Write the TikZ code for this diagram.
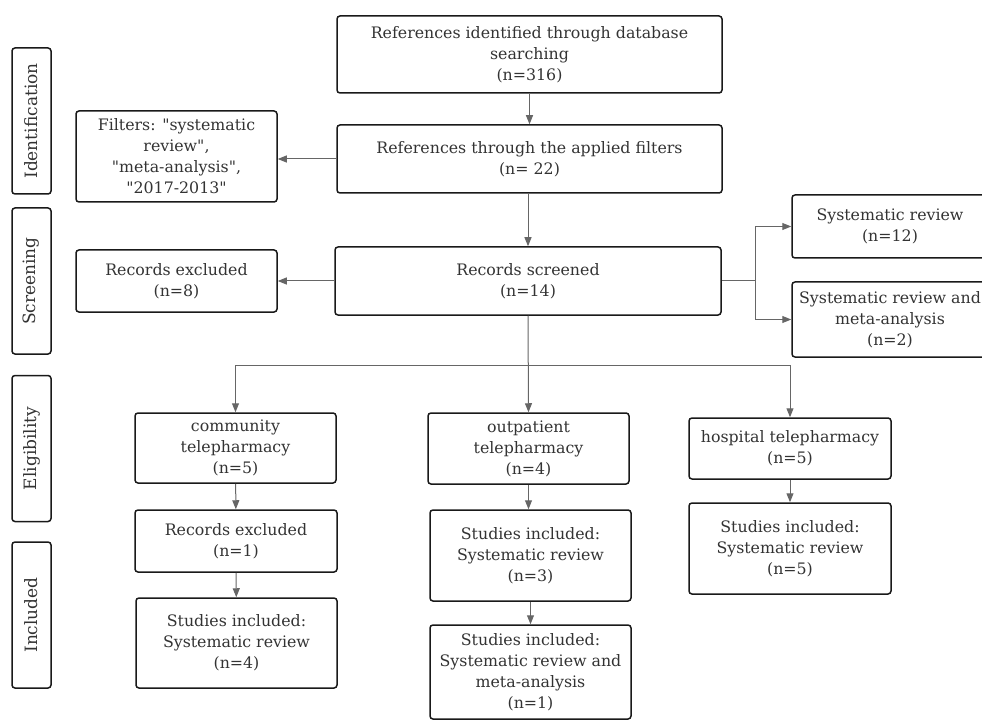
\documentclass[tikz,border=0pt]{standalone}
\usepackage{fontspec}
\setmainfont{DejaVu Serif}
\usepackage{xcolor}
\usepackage{tikz}
\usetikzlibrary{arrows.meta,positioning}

\definecolor{linegray}{HTML}{666666}
\definecolor{textgray}{HTML}{333333}
\newcommand{\qt}[1]{\textquotedbl#1\textquotedbl}

\begin{document}
\begin{tikzpicture}[x=1pt,y=-1pt,
    box/.style={draw=black!90, line width=1.5pt, rounded corners=3pt, align=center,
      inner sep=0pt, text=textgray, font=\fontsize{15.8}{21}\selectfont},
    phase/.style={box, rotate=90, minimum width=146pt, minimum height=39pt,
      font=\fontsize{17}{21}\selectfont},
    arr/.style={draw=linegray, line width=1pt, -{Triangle[length=9pt,width=7pt]}}]
    \useasboundingbox (0,0) rectangle (982,727);
    \node[phase] (ident) at (31.5,121) {Identification};
    \node[phase] (screen) at (31.5,281) {Screening};
    \node[phase] (elig) at (31.5,448.5) {Eligibility};
    \node[phase] (incl) at (31.5,615) {Included};
    \node[box, minimum width=385pt, minimum height=77pt] (top) at (529.5,54.5)
      {References identified through database\\searching\\(n=316)};
    \node[box, minimum width=385pt, minimum height=68pt] (refs) at (529.5,159)
      {References through the applied filters\\(n= 22)};
    \node[box, minimum width=201pt, minimum height=91pt] (filters) at (176.5,156.5)
      {Filters: \qt{systematic\\review},\\\qt{meta-analysis},\\\qt{2017-2013}};
    \node[box, minimum width=386pt, minimum height=68pt] (screened) at (528,281)
      {Records screened\\(n=14)};
    \node[box, minimum width=201pt, minimum height=62pt] (excl8) at (176.5,281)
      {Records excluded\\(n=8)};
    \node[box, minimum width=196pt, minimum height=63pt] (sr12) at (890,226.5)
      {Systematic review\\(n=12)};
    \node[box, minimum width=196pt, minimum height=75pt] (srma2) at (890,319.5)
      {Systematic review and\\meta-analysis\\(n=2)};
    \node[box, minimum width=201pt, minimum height=70pt] (comm) at (235.5,448)
      {community\\telepharmacy\\(n=5)};
    \node[box, minimum width=202pt, minimum height=62pt] (excl1) at (236,541)
      {Records excluded\\(n=1)};
    \node[box, minimum width=201pt, minimum height=90pt] (incl4) at (236.5,643)
      {Studies included:\\Systematic review\\(n=4)};
    \node[box, minimum width=201pt, minimum height=71pt] (outp) at (528.5,448.5)
      {outpatient\\telepharmacy\\(n=4)};
    \node[box, minimum width=201pt, minimum height=91pt] (incl3) at (530.5,555.5)
      {Studies included:\\Systematic review\\(n=3)};
    \node[box, minimum width=201pt, minimum height=94pt] (incl1) at (530.5,672)
      {Studies included:\\Systematic review and\\meta-analysis\\(n=1)};
    \node[box, minimum width=202pt, minimum height=61pt] (hosp) at (790,448.5)
      {hospital telepharmacy\\(n=5)};
    \node[box, minimum width=202pt, minimum height=91pt] (incl5) at (790,548.5)
      {Studies included:\\Systematic review\\(n=5)};
    \coordinate (split) at (528,365);
    \coordinate (fork) at (755,281);
    \draw[arr] (top) -- (refs);
    \draw[arr] (refs.west) -- (filters.east |- refs.west);
    \draw[arr] (refs.south -| screened.south) -- (screened.north);
    \draw[arr] (screened) -- (excl8);
    \draw[draw=linegray, line width=1pt] (screened.east) -- (fork);
    \draw[arr] (fork) |- (sr12.west);
    \draw[arr] (fork) |- (srma2.west);
    \draw[arr] (screened.south) -- (outp.north);
    \draw[arr] (split) -| (comm.north);
    \draw[arr] (split) -| (hosp.north);
    \draw[arr] (comm) -- (excl1);
    \draw[arr] (excl1) -- (incl4);
    \draw[arr] (outp.south) -- (outp.south |- incl3.north);
    \draw[arr] (incl3) -- (incl1);
    \draw[arr] (hosp) -- (incl5);
\end{tikzpicture}
\end{document}
